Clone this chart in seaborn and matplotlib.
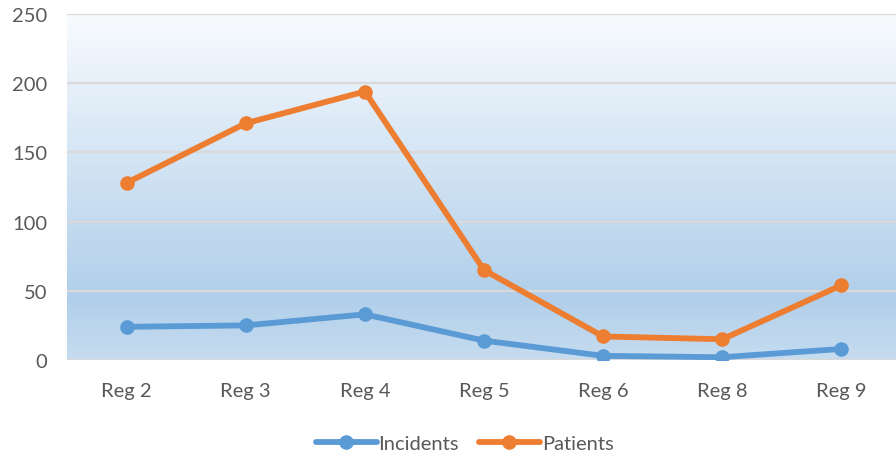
import pandas as pd
import numpy as np
import matplotlib.pyplot as plt
import seaborn as sns
from matplotlib.colors import LinearSegmentedColormap

# data
regions = ["Reg 2", "Reg 3", "Reg 4", "Reg 5", "Reg 6", "Reg 8", "Reg 9"]
incidents = [24, 25, 33, 14, 3, 2, 8]
patients = [128, 171, 194, 65, 17, 15, 54]

df = pd.DataFrame({
    "Region": regions * 2,
    "Value": incidents + patients,
    "Series": ["Incidents"] * len(regions) + ["Patients"] * len(regions),
})

sns.set_theme(style="white")
plt.rcParams['font.family'] = ['Lato', 'DejaVu Sans']

fig = plt.figure(figsize=(8.96, 4.56), dpi=100)
ax = fig.add_axes([67 / 896, 1 - 361 / 456, 834 / 896, 346 / 456])

# gradient background
grad = LinearSegmentedColormap.from_list(
    "bg", [(0.0, "#c6dcf0"), (0.18, "#b1cfea"), (1.0, "#f8fbfe")])
ax.imshow(np.linspace(0, 1, 256).reshape(-1, 1), cmap=grad, origin="lower",
          aspect="auto", extent=(-0.5, 6.5, 0, 250), zorder=0)

sns.lineplot(data=df, x="Region", y="Value", hue="Series",
             palette={"Incidents": "#5b9bd5", "Patients": "#ed7d31"},
             marker="o", markersize=10.5, markeredgewidth=0, linewidth=4.2,
             sort=False, ax=ax, zorder=3)

ax.set_xlim(-0.5, 6.5)
ax.set_ylim(0, 250)
ax.set_yticks(range(0, 251, 50))
ax.yaxis.grid(True, color="#d9d9d9", linewidth=1.6, zorder=1)
ax.set_axisbelow(False)
for s in ax.spines.values():
    s.set_visible(False)
ax.set_xlabel("")
ax.set_ylabel("")
ax.tick_params(axis="both", colors="#595959", labelsize=14.5, length=0)
ax.tick_params(axis="x", pad=16)
ax.tick_params(axis="y", pad=14)

leg = ax.legend(loc="upper center", bbox_to_anchor=(0.477, -0.165), ncol=2,
                frameon=False, fontsize=14.5, handlelength=3, columnspacing=1.0,
                handletextpad=0.1)
for t in leg.get_texts():
    t.set_color("#595959")

fig.savefig("out.png", dpi=100)
